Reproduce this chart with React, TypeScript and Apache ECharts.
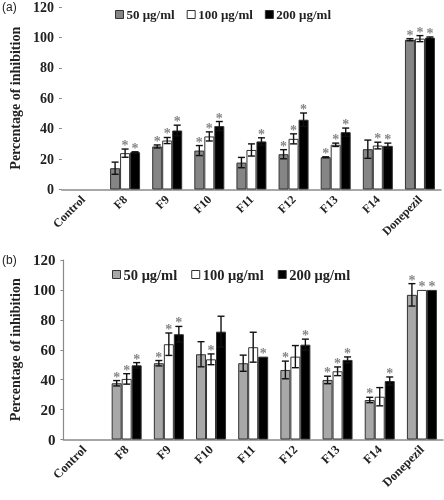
import React, { useEffect, useRef } from "react";
import * as echarts from "echarts";

const categories = ["Control", "F8", "F9", "F10", "F11", "F12", "F13", "F14", "Donepezil"];
const seriesNames = ["50 μg/ml", "100 μg/ml", "200 μg/ml"];
const yTicks = [0, 20, 40, 60, 80, 100, 120];

// Panel (a)
const a50 = [null, 14, 28.3, 25.6, 17.7, 23.2, 21.2, 26.5, 98.5];
const a50err = [null, 4, 1, 3.3, 3.4, 3, 0.3, 6, 0.7];
const a50star = [0, 0, 1, 1, 0, 1, 1, 0, 1];
const a100 = [null, 23.9, 32.2, 34.9, 26, 33.3, 29.4, 28.9, 99.2];
const a100err = [null, 2.7, 2, 3, 4, 3.3, 1.1, 2.2, 2];
const a100star = [0, 1, 1, 1, 0, 1, 1, 1, 1];
const a200 = [null, 24.5, 38.8, 41.7, 31.6, 45.9, 37.7, 28.7, 99.8];
const a200err = [null, 0.3, 3.5, 3, 2.4, 4.4, 2.7, 1.8, 0.5];
const a200star = [0, 1, 1, 1, 1, 1, 1, 1, 1];

// Panel (b)
const b50 = [null, 37.6, 51, 57, 51, 46.5, 39.8, 26.4, 96.7];
const b50err = [null, 1.8, 1.8, 8.4, 5.4, 5.9, 2.5, 1.8, 7.5];
const b50star = [0, 1, 1, 0, 0, 1, 1, 1, 1];
const b100 = [null, 40.5, 63.7, 53.6, 61.7, 55.4, 45.6, 28.6, 100];
const b100err = [null, 3.5, 7.5, 3.6, 10, 7.4, 2.9, 6.1, 0];
const b100star = [0, 1, 1, 1, 0, 0, 1, 0, 1];
const b200 = [null, 49.6, 70.4, 72.1, 55.4, 63.4, 53.2, 39.1, 100];
const b200err = [null, 1.8, 5.2, 10.3, 0, 3.7, 2, 2.7, 0];
const b200star = [0, 1, 1, 0, 1, 1, 1, 1, 1];

const FONT = "'Liberation Serif', 'Times New Roman', serif";
const grayA = "#858585";
const grayB = "#a8a8a8";
const BAR_W = 10;

function errSeries(vals: (number | null)[], errs: (number | null)[], offset: number, axisIdx: number) {
  const data = vals.map((v, i) => [i, v == null ? NaN : v, errs[i] == null ? 0 : errs[i]]);
  return {
    type: "custom",
    xAxisIndex: axisIdx,
    yAxisIndex: axisIdx,
    z: 10,
    silent: true,
    data,
    renderItem: (params: any, api: any) => {
      const idx = api.value(0);
      const v = api.value(1);
      if (isNaN(v)) return null;
      const e = api.value(2);
      const top = api.coord([idx, v + e]);
      const bot = api.coord([idx, v - e]);
      const x = top[0] + offset;
      const children: any[] = [];
      const ls = { stroke: "#111", lineWidth: 1.4 };
      if (e > 0.2) {
        children.push({ type: "line", shape: { x1: x, y1: top[1], x2: x, y2: bot[1] }, style: ls });
        children.push({ type: "line", shape: { x1: x - 3.5, y1: top[1], x2: x + 3.5, y2: top[1] }, style: ls });
        children.push({ type: "line", shape: { x1: x - 3.5, y1: bot[1], x2: x + 3.5, y2: bot[1] }, style: ls });
      }
      return { type: "group", children };
    },
  };
}

function starSeries(vals: (number | null)[], errs: (number | null)[], stars: number[], offset: number, axisIdx: number) {
  const data: any[] = [];
  vals.forEach((v, i) => {
    if (v != null && stars[i]) data.push([i, v + (errs[i] || 0)]);
  });
  return {
    type: "scatter",
    xAxisIndex: axisIdx,
    yAxisIndex: axisIdx,
    z: 11,
    silent: true,
    symbol: "circle",
    symbolSize: 1,
    itemStyle: { color: "rgba(0,0,0,0)" },
    data,
    label: {
      show: true,
      position: "top",
      distance: 0,
      offset: [offset, 4],
      formatter: "*",
      color: "#666",
      fontFamily: FONT,
      fontWeight: "bold",
      fontSize: 14,
    },
  };
}

function barSeries(name: string, vals: (number | null)[], color: string, axisIdx: number) {
  return {
    name,
    type: "bar",
    xAxisIndex: axisIdx,
    yAxisIndex: axisIdx,
    barWidth: BAR_W,
    barGap: "0%",
    data: vals,
    itemStyle: { color, borderColor: "#333", borderWidth: 1 },
  };
}

export default function App() {
  const ref = useRef<HTMLDivElement>(null);
  useEffect(() => {
    if (!ref.current) return;
    const chart = echarts.init(ref.current, undefined, { renderer: "svg" });
    const xAxisBase = (gridIndex: number, fs: number) => ({
      type: "category",
      gridIndex,
      data: categories,
      axisLine: { show: true, lineStyle: { color: "#8a8a8a", width: 1.5 } },
      axisTick: { show: false },
      axisLabel: {
        interval: 0,
        rotate: 45,
        margin: 8,
        fontFamily: FONT,
        fontWeight: "bold",
        fontSize: fs,
        color: "#222",
      },
    });
    const yAxisBase = (gridIndex: number, showLine: boolean, fs: number) => ({
      type: "value",
      gridIndex,
      min: 0,
      max: 120,
      interval: 20,
      name: "Percentage of inhibition",
      nameLocation: "middle",
      nameRotate: 90,
      nameGap: 30,
      nameTextStyle: { fontFamily: FONT, fontWeight: "bold", fontSize: 14, color: "#222" },
      axisLine: { show: showLine, lineStyle: { color: "#8a8a8a", width: 1.2 } },
      axisTick: { show: true, length: 3, lineStyle: { color: "#8a8a8a" } },
      splitLine: { show: false },
      axisLabel: {
        margin: 8,
        fontFamily: FONT,
        fontWeight: "bold",
        fontSize: fs,
        color: "#222",
        formatter: (v: number) => (yTicks.includes(v) ? String(v) : ""),
      },
    });
    const legendBase = (left: number, top: number, gray: string, fs: number, gap: number) => ({
      left,
      top,
      padding: 0,
      itemWidth: 8,
      itemHeight: 8,
      itemGap: gap,
      icon: "rect",
      textStyle: { fontFamily: FONT, fontWeight: "bold", fontSize: fs, color: "#222", padding: [0, 0, 0, -2] },
      data: [
        { name: seriesNames[0], itemStyle: { color: gray, borderColor: "#333", borderWidth: 1 } },
        { name: seriesNames[1], itemStyle: { color: "#fff", borderColor: "#333", borderWidth: 1 } },
        { name: seriesNames[2], itemStyle: { color: "#000", borderColor: "#333", borderWidth: 1 } },
      ],
      selectedMode: false,
    });
    chart.setOption({
      animation: false,
      backgroundColor: "#fff",
      grid: [
        { left: 46, right: 3, top: 7, height: 182.5 },
        { left: 51, right: 1, top: 260, height: 179.5 },
      ],
      legend: [legendBase(115, 8, grayA, 13, 12), legendBase(112, 267, grayB, 14.5, 14)],
      xAxis: [xAxisBase(0, 12), xAxisBase(1, 12.5)],
      yAxis: [yAxisBase(0, false, 14), yAxisBase(1, true, 15)],
      graphic: [
        { type: "text", left: 2, top: 1, style: { text: "(a)", font: "12px 'Liberation Sans', Arial, sans-serif", fill: "#222" } },
        { type: "text", left: 2, top: 254, style: { text: "(b)", font: "12px 'Liberation Sans', Arial, sans-serif", fill: "#222" } },
      ],
      series: [
        barSeries(seriesNames[0], a50, grayA, 0),
        barSeries(seriesNames[1], a100, "#fff", 0),
        barSeries(seriesNames[2], a200, "#000", 0),
        barSeries(seriesNames[0], b50, grayB, 1),
        barSeries(seriesNames[1], b100, "#fff", 1),
        barSeries(seriesNames[2], b200, "#000", 1),
        errSeries(a50, a50err, -BAR_W, 0),
        errSeries(a100, a100err, 0, 0),
        errSeries(a200, a200err, BAR_W, 0),
        errSeries(b50, b50err, -BAR_W, 1),
        errSeries(b100, b100err, 0, 1),
        errSeries(b200, b200err, BAR_W, 1),
        starSeries(a50, a50err, a50star, -BAR_W, 0),
        starSeries(a100, a100err, a100star, 0, 0),
        starSeries(a200, a200err, a200star, BAR_W, 0),
        starSeries(b50, b50err, b50star, -BAR_W, 1),
        starSeries(b100, b100err, b100star, 0, 1),
        starSeries(b200, b200err, b200star, BAR_W, 1),
      ],
    });
    return () => chart.dispose();
  }, []);
  return (
    <div
      ref={ref}
      style={{
        position: "fixed",
        left: 0,
        top: 0,
        width: 444,
        height: 500,
        background: "#fff",
        filter: "grayscale(1)",
      }}
    />
  );
}
